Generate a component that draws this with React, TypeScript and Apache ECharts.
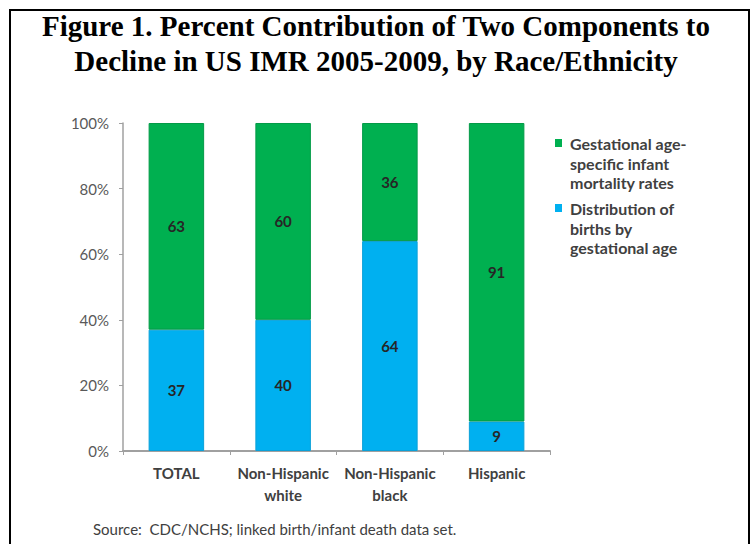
import React, { useEffect, useRef } from "react";
import * as echarts from "echarts";

// Race/ethnicity groups shown on the x axis
const categories = ["TOTAL", "Non-Hispanic\nwhite", "Non-Hispanic\nblack", "Hispanic"];

// Percent contribution of each component to the IMR decline
const distributionValues = [37, 40, 64, 9];
const gestationalValues = [63, 60, 36, 91];

const seriesNames = [
  "Gestational age-\nspecific infant\nmortality rates",
  "Distribution of\nbirths by\ngestational age",
];
const seriesColors = ["#00b050", "#00b0f0"];

const yTicks = [0, 20, 40, 60, 80, 100];

const titleText =
  "Figure 1. Percent Contribution of Two Components to\nDecline in US IMR 2005-2009, by Race/Ethnicity";
const sourceText = "Source:  CDC/NCHS; linked birth/infant death data set.";

const SANS = "Lato, 'Open Sans', sans-serif";

export default function App() {
  const ref = useRef<HTMLDivElement>(null);

  useEffect(() => {
    if (!ref.current) return;
    const chart = echarts.init(ref.current, undefined, { renderer: "svg" });

    // Legend: square swatch aligned with the first line of each wrapped name
    const legendItems = seriesNames.map((name, i) => ({
      type: "group",
      x: 560,
      y: 138 + i * 65,
      children: [
        {
          type: "rect",
          shape: { x: -5, y: 1, width: 7, height: 8 },
          style: { fill: seriesColors[i] },
        },
        {
          type: "text",
          x: 10,
          y: -4,
          style: {
            text: name,
            font: `bold 16px ${SANS}`,
            fill: "#404040",
            lineHeight: 19.5,
          },
        },
      ],
    }));

    const labelStyle = {
      show: true,
      position: "inside",
      color: "#262626",
      fontFamily: SANS,
      fontWeight: "bold",
      fontSize: 15,
    };

    chart.setOption({
      animation: false,
      backgroundColor: "#ffffff",
      title: {
        text: titleText,
        left: "center",
        top: 4,
        textStyle: {
          fontFamily: "'Liberation Serif', 'Times New Roman', serif",
          fontWeight: "bold",
          fontSize: 29,
          lineHeight: 34.5,
          color: "#000000",
        },
      },
      grid: { left: 123, top: 123, width: 427, height: 328, containLabel: false },
      xAxis: {
        type: "category",
        data: categories,
        axisLine: { lineStyle: { color: "#a0a0a0", width: 2 } },
        axisTick: { show: true, length: 4, lineStyle: { color: "#a0a0a0" } },
        axisLabel: {
          interval: 0,
          margin: 11,
          fontFamily: SANS,
          fontWeight: "bold",
          fontSize: 15,
          lineHeight: 22,
          color: "#404040",
        },
      },
      yAxis: {
        type: "value",
        min: 0,
        max: 100,
        interval: 20,
        axisLine: { show: true, lineStyle: { color: "#a0a0a0", width: 1.5 } },
        axisTick: { show: true, length: 4, lineStyle: { color: "#a0a0a0" } },
        splitLine: { show: false },
        axisLabel: {
          margin: 14,
          fontFamily: SANS,
          fontSize: 15,
          color: "#595959",
          formatter: (v: number) => (yTicks.includes(v) ? `${v}%` : ""),
        },
      },
      series: [
        {
          name: seriesNames[1],
          type: "bar",
          stack: "total",
          barWidth: "52%",
          data: distributionValues,
          itemStyle: { color: seriesColors[1], borderColor: "#0aa0d8", borderWidth: 1 },
          label: labelStyle,
        },
        {
          name: seriesNames[0],
          type: "bar",
          stack: "total",
          barWidth: "52%",
          data: gestationalValues,
          itemStyle: { color: seriesColors[0], borderColor: "#039a47", borderWidth: 1 },
          label: labelStyle,
        },
      ],
      graphic: [
        {
          type: "rect",
          shape: { x: 10, y: 10, width: 739, height: 560 },
          style: { fill: "none", stroke: "#000000", lineWidth: 2 },
          silent: true,
        },
        ...legendItems,
        {
          type: "text",
          x: 93,
          y: 521,
          style: {
            text: sourceText,
            font: `15px ${SANS}`,
            fill: "#404040",
          },
        },
      ],
    });

    return () => chart.dispose();
  }, []);

  return (
    <div
      ref={ref}
      style={{ position: "fixed", left: 0, top: 0, width: 752, height: 544 }}
    />
  );
}
